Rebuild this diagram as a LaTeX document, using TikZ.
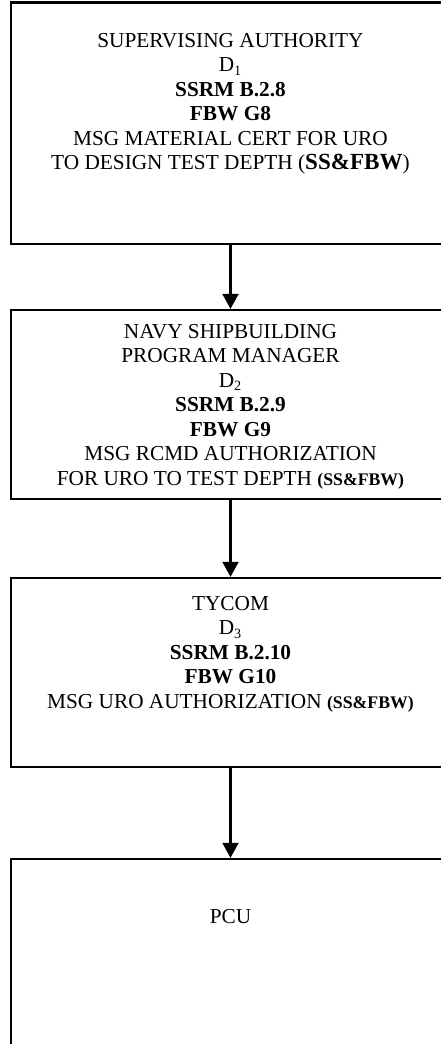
\documentclass[tikz,border=0pt]{standalone}
\usepackage{fontspec}
\setmainfont{Liberation Serif}
\usetikzlibrary{arrows.meta}
\tikzset{
  box/.style={draw, line width=1.25pt, minimum width=247.3pt, inner sep=0pt},
  lbl/.style={align=center, inner sep=0pt, anchor=north, font=\fontsize{12}{13.8}\selectfont},
  arr/.style={line width=1.25pt, -{Triangle[width=9pt,length=8.5pt]}}
}
\newcommand{\smb}[1]{{\fontsize{10}{12}\selectfont\bfseries #1}}
\newcommand{\lgb}[1]{{\fontsize{13}{13.8}\selectfont\bfseries #1}}
\begin{document}
\begin{tikzpicture}[x=0.5634pt, y=-0.5634pt]
\clip (0,0) rectangle (441,1044);
\node[box, minimum height=136.1pt] (b1) at (230.5,123.25) {};
\node[box, minimum height=106.5pt] (b2) at (230.5,404.5) {};
\node[box, minimum height=106.5pt] (b3) at (230.5,672.5) {};
\node[box, minimum height=136.1pt] (b4) at (230.5,979.75) {};
\node[lbl] (t1) at (230.5,33) {SUPERVISING AUTHORITY\\D\textsubscript{1}\\\textbf{SSRM B.2.8}\\\textbf{FBW G8}\\MSG MATERIAL CERT FOR URO\\TO DESIGN TEST DEPTH (\lgb{SS\&FBW})};
\node[lbl] (t2) at (230.5,324) {NAVY SHIPBUILDING\\PROGRAM MANAGER\\D\textsubscript{2}\\\textbf{SSRM B.2.9}\\\textbf{FBW G9}\\MSG RCMD AUTHORIZATION\\FOR URO TO TEST DEPTH \smb{(SS\&FBW)}};
\node[lbl] (t3) at (230.5,596) {TYCOM\\D\textsubscript{3}\\\textbf{SSRM B.2.10}\\\textbf{FBW G10}\\MSG URO AUTHORIZATION \smb{(SS\&FBW)}};
\node[lbl] (t4) at (230.5,909) {PCU};
\draw[arr] (b1.south) -- (b2.north);
\draw[arr] (b2.south) -- (b3.north);
\draw[arr] (b3.south) -- (b4.north);
\end{tikzpicture}
\end{document}
